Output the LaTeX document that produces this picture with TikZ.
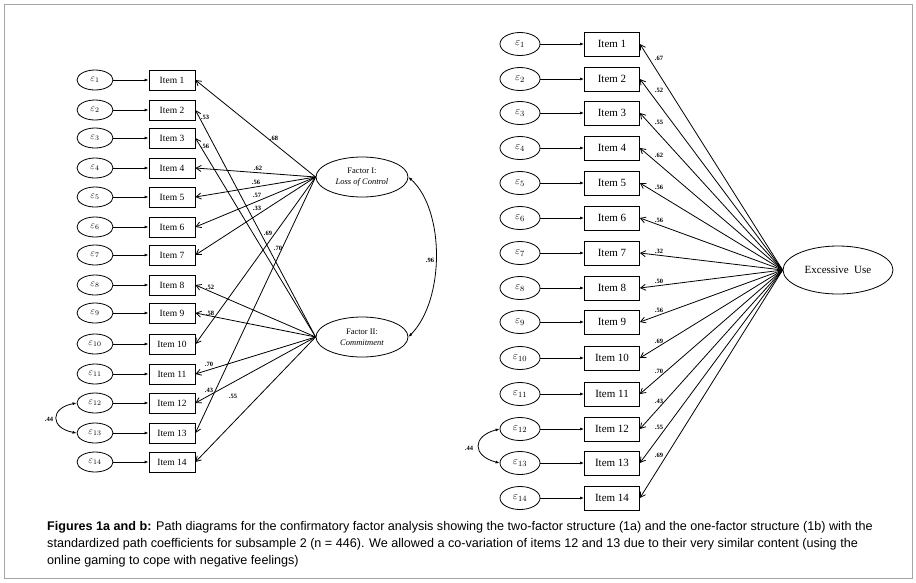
\documentclass[tikz,border=0pt]{standalone}
\usepackage{fontspec}
\setmainfont{Liberation Serif}
\newfontfamily\capfont{Liberation Sans}
\usetikzlibrary{arrows.meta,shapes.geometric}
\begin{document}
\begin{tikzpicture}[x=1pt,y=-1pt,
  err/.style={ellipse,draw,thick,minimum width=36pt,minimum height=20pt,inner sep=0pt,font=\fontsize{10}{10}\selectfont},
  item/.style={rectangle,draw,thick,minimum width=46pt,minimum height=20pt,inner sep=0pt,font=\fontsize{9.5}{9.5}\selectfont},
  itemR/.style={rectangle,draw,thick,minimum width=55pt,minimum height=24pt,inner sep=0pt,font=\fontsize{11}{11}\selectfont},
  errR/.style={ellipse,draw,thick,minimum width=40pt,minimum height=23pt,inner sep=0pt,font=\fontsize{11}{11}\selectfont},
  fac/.style={ellipse,draw,thick,minimum width=92pt,minimum height=40pt,inner sep=0pt,align=center,font=\fontsize{8.5}{11}\selectfont},
  ea/.style={-{Latex[length=4pt,width=3pt]},thick},
  la/.style={-{Straight Barb[length=5pt,width=6pt]},thick},
  lab/.style={font=\fontsize{6.5}{6.5}\selectfont\bfseries,inner sep=0pt}]
\useasboundingbox (0,0) rectangle (916,582);
\draw[gray!70] (4,4) rectangle (912,578);
% left
\foreach \i/\y in {1/80,2/110,3/138,4/168,5/197,6/227,7/255,8/285,9/313,10/344,11/374,12/403,13/433,14/462}{
  \node[err] (le\i) at (95,\y) {$\varepsilon_{\i}$};
  \node[item] (li\i) at (172,\y) {Item \i};
  \draw[ea] (le\i) -- (li\i);
}
\node[fac] (f1) at (362,177) {Factor I:\\\textit{Loss of Control}};
\node[fac] (f2) at (362,337) {Factor II:\\\textit{Commitment}};
\foreach \i in {1,4,5,6,7,10,13}{\draw[la] (f1.west) -- (li\i.east);}
\foreach \i in {2,3,8,9,11,12,14}{\draw[la] (f2.west) -- (li\i.east);}
\draw[{Latex[length=4pt,width=3pt]}-{Latex[length=4pt,width=3pt]},thick] (f1.east) .. controls (445,210) and (445,300) .. (f2.east);
\draw[{Latex[length=4pt,width=3pt]}-{Latex[length=4pt,width=3pt]},thick] (le12.west) .. controls (50,408) and (50,428) .. (le13.west);
\foreach \t/\x/\y in {.68/274/138,.53/205/117,.56/205/146,.62/258/168,.56/256/182,.57/257/195,.33/257/208,.69/268/233,.70/278/248,.52/210/287,.58/210/313,.70/209/364,.43/209/390,.55/233/396,.44/49/419,.96/430/260}{
  \node[lab] at (\x,\y) {\t};}
% right
\foreach \i/\y in {1/44,2/79,3/113,4/148,5/183,6/218,7/253,8/288,9/322,10/358,11/394,12/429,13/463,14/498}{
  \node[errR] (re\i) at (520,\y) {$\varepsilon_{\i}$};
  \node[itemR] (ri\i) at (612,\y) {Item \i};
  \draw[ea] (re\i) -- (ri\i);
}
\node[ellipse,draw,thick,minimum width=110pt,minimum height=48pt,font=\fontsize{11}{11}\selectfont] (ex) at (838,270) {Excessive\ \ Use};
\foreach \i in {1,...,14}{\draw[la] (ex.west) -- (ri\i.east);}
\draw[{Latex[length=4pt,width=3pt]}-{Latex[length=4pt,width=3pt]},thick] (re12.west) .. controls (472,436) and (472,456) .. (re13.west);
\foreach \t/\x/\y in {.67/659/58,.52/659/90,.55/659/122,.62/659/155,.56/659/187,.56/659/220,.32/659/251,.50/659/281,.56/659/310,.69/659/341,.70/659/371,.43/659/401,.55/659/427,.69/659/455,.44/469/448}{
  \node[lab] at (\x,\y) {\t};}
% caption
\node[anchor=west,inner sep=0pt,font=\capfont\fontsize{12.6}{14}\selectfont] (c1) at (47,527) {\textbf{Figures 1a and b:} Path diagrams for the confirmatory factor analysis showing the two-factor structure (1a) and the one-factor structure (1b) with the};
\node[anchor=west,inner sep=0pt,font=\capfont\fontsize{12.6}{14}\selectfont] (c2) at (47,544) {standardized path coefficients for subsample 2 (n = 446). We allowed a co-variation of items 12 and 13 due to their very similar content (using the};
\node[anchor=west,inner sep=0pt,font=\capfont\fontsize{12.6}{14}\selectfont] (c3) at (47,561) {online gaming to cope with negative feelings)};
\end{tikzpicture}
\end{document}
